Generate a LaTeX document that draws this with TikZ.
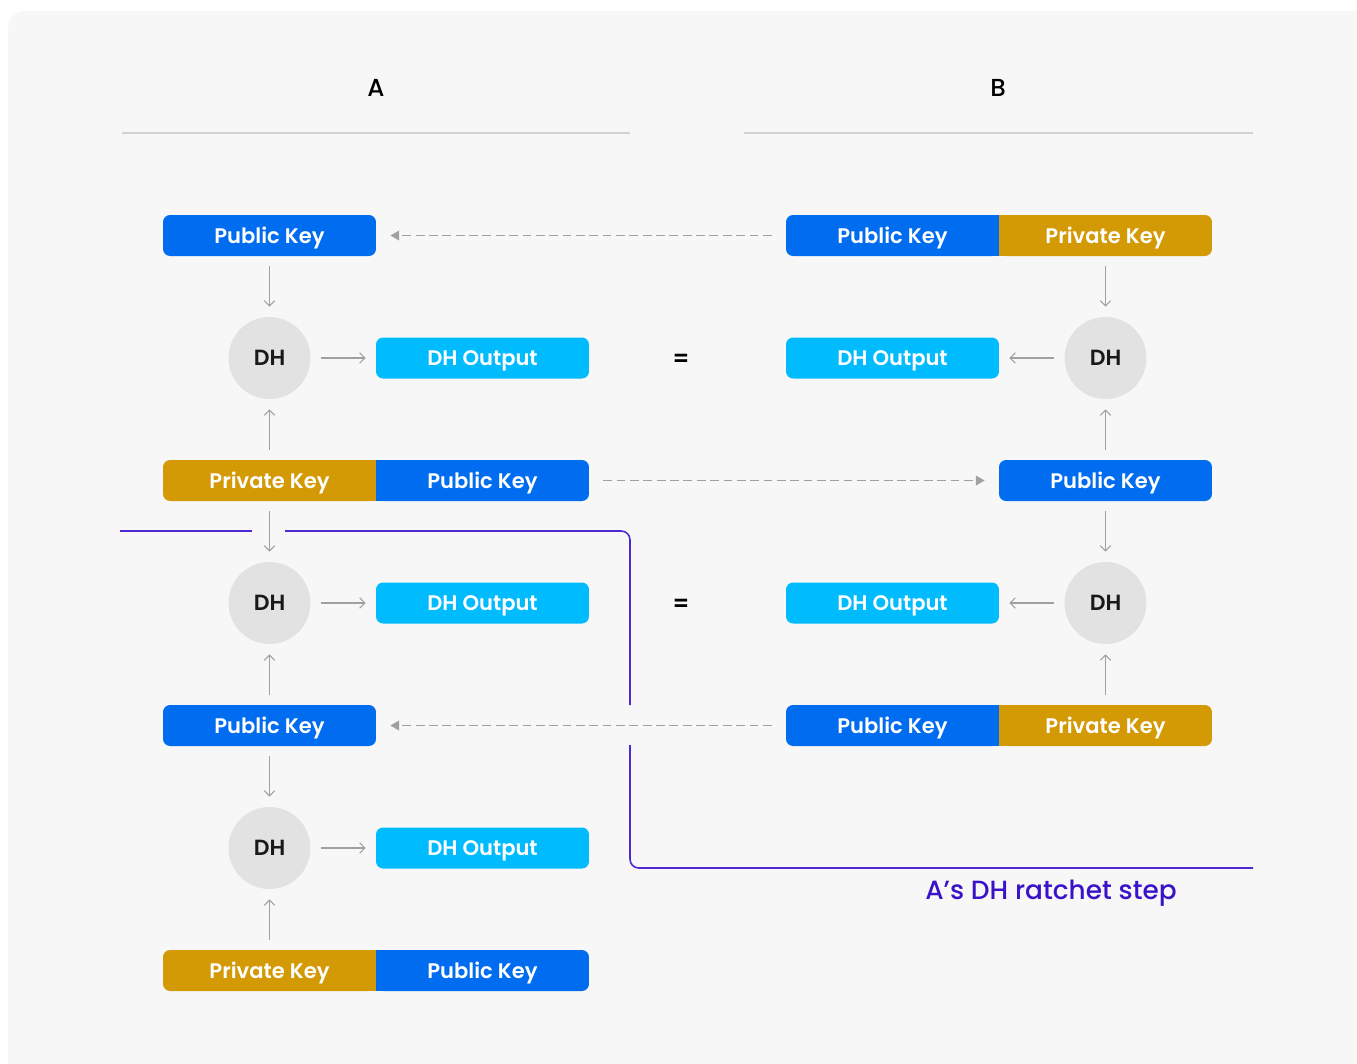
\documentclass[tikz,border=0pt]{standalone}
\usepackage{fontspec}
\setmainfont{Poppins}
\IfFontExistsTF{Poppins SemiBold}
  {\newfontfamily\keyfont{Poppins SemiBold}}
  {\newfontfamily\keyfont{Poppins}[FakeBold=0]}
\IfFontExistsTF{Poppins Medium}
  {\newfontfamily\labfont{Poppins Medium}}
  {\newfontfamily\labfont{Poppins}}
\usetikzlibrary{arrows.meta}

\definecolor{pubcol}{RGB}{0,108,240}
\definecolor{privcol}{RGB}{212,154,6}
\definecolor{outcol}{RGB}{0,188,255}
\definecolor{dhcol}{RGB}{226,226,226}
\definecolor{bgcol}{RGB}{247,247,247}
\definecolor{arrcol}{RGB}{160,160,160}
\definecolor{stepcol}{RGB}{80,40,210}
\definecolor{steptext}{RGB}{58,18,200}

\begin{document}
\begin{tikzpicture}[x=0.02cm,y=-0.02cm,
                key/.style={minimum width=4.26cm,minimum height=0.82cm,rounded corners=4pt,
                  inner sep=0pt,text=white,text height=8.6pt,text depth=0pt,
                  font=\keyfont\fontsize{12}{14}\selectfont},
                pub node/.style={key,fill=pubcol},
                priv node/.style={key,fill=privcol},
                out node/.style={key,fill=outcol},
                dh node/.style={circle,fill=dhcol,minimum size=1.64cm,inner sep=0pt,
                  text=black!90,font=\keyfont\fontsize{12.5}{14}\selectfont},
                flow/.style={draw=arrcol,line width=0.6pt,-{Straight Barb[length=3pt,width=6pt]},
                  shorten >=0.2cm,shorten <=0.2cm},
                send/.style={draw=arrcol,line width=0.9pt,dash pattern=on 5pt off 2.6pt,
                  -{Triangle[length=5pt,width=5.5pt]},shorten >=0.28cm,shorten <=0.28cm},
                step line/.style={draw=stepcol,line width=0.9pt,rounded corners=5pt}]
  \useasboundingbox (0,0) rectangle (1357,1063);
  \clip (0,0) rectangle (1357,1063);
  \fill[white] (0,0) rectangle (1357,1063);
  \fill[bgcol,rounded corners=10pt] (8,11) rectangle (1380,1090);

  % headers
  \node[font=\labfont\fontsize{14}{16}\selectfont] (ha) at (376,88) {A};
  \node[font=\labfont\fontsize{14}{16}\selectfont] (hb) at (998,88) {B};
  \draw[black!18,line width=0.6pt] (122,133) -- (630,133);
  \draw[black!18,line width=0.6pt] (744,133) -- (1253,133);

  % A side
  \node[pub node]  (apub1)  at (269.5,235.5) {Public Key};
  \node[dh node]   (adh1)   at (269.5,358) {DH};
  \node[out node]  (aout1)  at (482.5,358) {DH Output};
  \node[priv node] (apriv3) at (269.5,480.5) {Private Key};
  \node[pub node]  (apub3)  at (482.5,480.5) {Public Key};
  \node[dh node]   (adh2)   at (269.5,603) {DH};
  \node[out node]  (aout2)  at (482.5,603) {DH Output};
  \node[pub node]  (apub5)  at (269.5,725.5) {Public Key};
  \node[dh node]   (adh3)   at (269.5,848) {DH};
  \node[out node]  (aout3)  at (482.5,848) {DH Output};
  \node[priv node] (apriv7) at (269.5,970.5) {Private Key};
  \node[pub node]  (apub7)  at (482.5,970.5) {Public Key};

  % B side
  \node[pub node]  (bpub1)  at (892.5,235.5) {Public Key};
  \node[priv node] (bpriv1) at (1105.5,235.5) {Private Key};
  \node[out node]  (bout1)  at (892.5,358) {DH Output};
  \node[dh node]   (bdh1)   at (1105.5,358) {DH};
  \node[pub node]  (bpub3)  at (1105.5,480.5) {Public Key};
  \node[out node]  (bout2)  at (892.5,603) {DH Output};
  \node[dh node]   (bdh2)   at (1105.5,603) {DH};
  \node[pub node]  (bpub5)  at (892.5,725.5) {Public Key};
  \node[priv node] (bpriv5) at (1105.5,725.5) {Private Key};

  % square joins of the key pairs
  \fill[privcol] ([xshift=-5pt]apriv3.north east) rectangle (apriv3.south east);
  \fill[pubcol] (apub3.north west) rectangle ([xshift=5pt]apub3.south west);
  \fill[privcol] ([xshift=-5pt]apriv7.north east) rectangle (apriv7.south east);
  \fill[pubcol] (apub7.north west) rectangle ([xshift=5pt]apub7.south west);
  \fill[pubcol] ([xshift=-5pt]bpub1.north east) rectangle (bpub1.south east);
  \fill[privcol] (bpriv1.north west) rectangle ([xshift=5pt]bpriv1.south west);
  \fill[pubcol] ([xshift=-5pt]bpub5.north east) rectangle (bpub5.south east);
  \fill[privcol] (bpriv5.north west) rectangle ([xshift=5pt]bpriv5.south west);

  \node[font=\keyfont\fontsize{13}{14}\selectfont] (eq1) at (681,360) {=};
  \node[font=\keyfont\fontsize{13}{14}\selectfont] (eq2) at (681,605) {=};

  % solid flows
  \path[flow] (apub1) -- (adh1);
  \path[flow] (adh1) -- (aout1);
  \path[flow] (apriv3) -- (adh1);
  \path[flow] (apriv3) -- (adh2);
  \path[flow] (adh2) -- (aout2);
  \path[flow] (apub5) -- (adh2);
  \path[flow] (apub5) -- (adh3);
  \path[flow] (adh3) -- (aout3);
  \path[flow] (apriv7) -- (adh3);
  \path[flow] (bpriv1) -- (bdh1);
  \path[flow] (bdh1) -- (bout1);
  \path[flow] (bpub3) -- (bdh1);
  \path[flow] (bpub3) -- (bdh2);
  \path[flow] (bdh2) -- (bout2);
  \path[flow] (bpriv5) -- (bdh2);

  % public keys sent across
  \path[send] (bpub1) -- (apub1);
  \path[send] (apub3) -- (bpub3);
  \path[send] (bpub5) -- (apub5);

  % ratchet step frame
  \coordinate (s1) at (120,531);
  \coordinate (s2) at (252,531);
  \coordinate (s3) at (285,531);
  \coordinate (s4) at (630,531);
  \coordinate (s5) at (630,705);
  \coordinate (s6) at (630,745);
  \coordinate (s7) at (630,868);
  \coordinate (s8) at (1253,868);
  \draw[step line] (s1) -- (s2);
  \draw[step line] (s3) -- (s4) -- (s5);
  \draw[step line] (s6) -- (s7) -- (s8);
  \node[text=steptext,font=\labfont\fontsize{15}{18}\selectfont] (step) at (1051,893) {A’s DH ratchet step};
\end{tikzpicture}
\end{document}
